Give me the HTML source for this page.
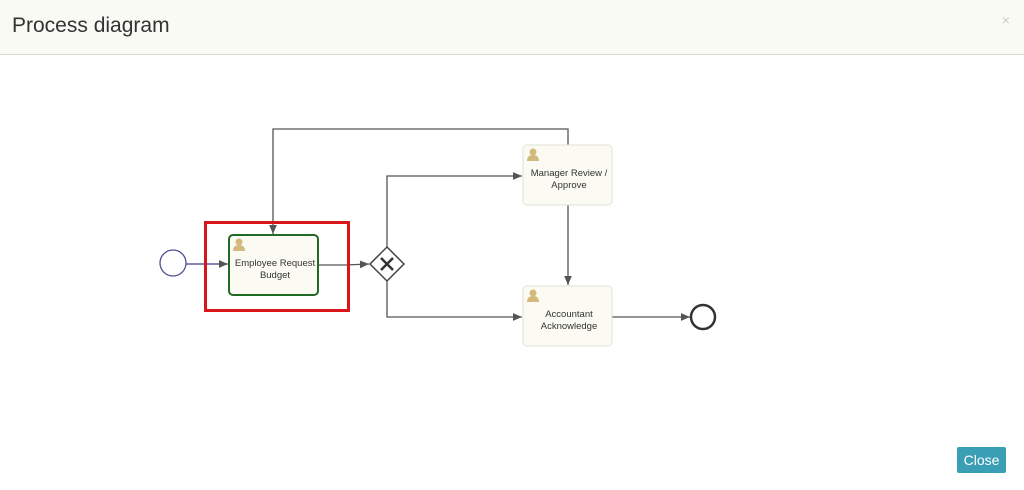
<!DOCTYPE html>
<html><head><meta charset="utf-8"><style>
body{margin:0;width:1024px;height:490px;background:#fff;font-family:"Liberation Sans",sans-serif;overflow:hidden;position:relative}
.hdr{position:absolute;left:0;top:0;width:1024px;height:54px;background:#f8faf3;border-bottom:1px solid #d8dbd2}
.hdr h1{margin:0;position:absolute;left:12px;top:14px;font-weight:normal;font-size:21px;color:#333}
.x{position:absolute;right:14px;top:12px;color:#ccc;font-size:14px}
.ftr{position:absolute;left:0;top:428px;width:1024px;height:62px;background:#fff}
.btn{position:absolute;left:957px;top:447px;width:49px;height:26px;background:#3a9fb5;color:#fff;font-size:14px;text-align:center;line-height:26px;border-radius:2px}
svg{position:absolute;left:0;top:0}
</style></head><body>
<div class="hdr"><h1>Process diagram</h1><div class="x">×</div></div>
<svg width="1024" height="490" font-family="Liberation Sans, sans-serif" font-size="9.5" fill="#333">
<defs><marker id="a" markerWidth="8" markerHeight="8" refX="7" refY="4" orient="auto"><path d="M0,1 L7,4 L0,7z" fill="#555"/></marker>
<g id="u"><circle cx="6" cy="4" r="3.5" fill="#d4b97c"/><path d="M0,13 Q0,7 6,7 Q12,7 12,13z" fill="#d4b97c"/></g></defs>
<g stroke="#555" stroke-width="1.3" fill="none">
<line x1="186" y1="264" x2="228" y2="264" stroke="#3a3f80" marker-end="url(#a)"/>
<polyline points="568,145 568,129 273,129 273,234" marker-end="url(#a)"/>
<polyline points="318,265 345,265 369,264" marker-end="url(#a)"/>
<polyline points="387,247 387,176 522,176" marker-end="url(#a)"/>
<polyline points="387,281 387,317 522,317" marker-end="url(#a)"/>
<line x1="568" y1="205" x2="568" y2="285" marker-end="url(#a)"/>
<line x1="612" y1="317" x2="690" y2="317" marker-end="url(#a)"/>
</g>
<circle cx="173" cy="263" r="13" fill="#fff" stroke="#4a4f90" stroke-width="1.3"/>
<circle cx="703" cy="317" r="12" fill="#fff" stroke="#333" stroke-width="2.5"/>
<rect x="229" y="235" width="89" height="60" rx="4" fill="#fbfbf4" stroke="#1f6a25" stroke-width="2"/>
<rect x="205.5" y="222.5" width="143" height="88" fill="none" stroke="#d9141b" stroke-width="3"/>
<rect x="523" y="145" width="89" height="60" rx="4" fill="#fbfbf4" stroke="#e2e2d6"/>
<rect x="523" y="286" width="89" height="60" rx="4" fill="#fbfbf4" stroke="#e2e2d6"/>
<use href="#u" x="233" y="238"/><use href="#u" x="527" y="148"/><use href="#u" x="527" y="289"/>
<polygon points="387,247 404,264 387,281 370,264" fill="#fff" stroke="#444" stroke-width="1.5"/>
<path d="M381,258 L393,270 M393,258 L381,270" stroke="#333" stroke-width="2.5"/>
<g text-anchor="middle">
<text x="275" y="266">Employee Request</text><text x="275" y="278">Budget</text>
<text x="569" y="176">Manager Review /</text><text x="569" y="188">Approve</text>
<text x="569" y="317">Accountant</text><text x="569" y="329">Acknowledge</text>
</g>
</svg>
<div class="btn">Close</div>
</body></html>
